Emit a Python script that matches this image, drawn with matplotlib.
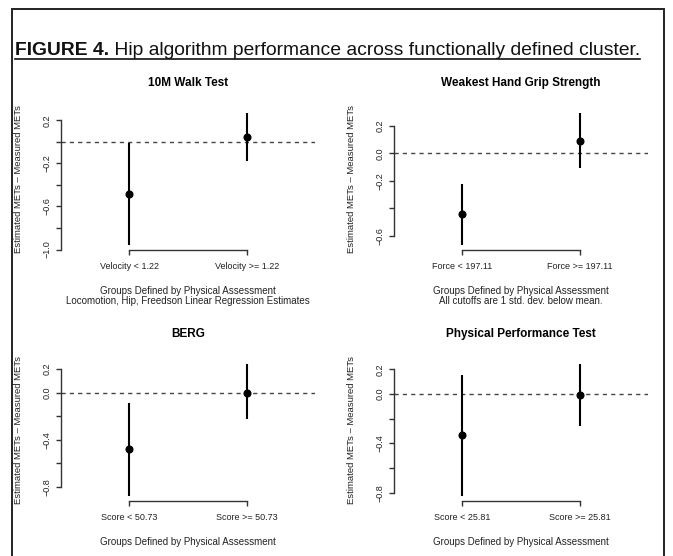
import matplotlib
matplotlib.use("Agg")
import matplotlib.pyplot as plt
from matplotlib.lines import Line2D
from matplotlib.patches import Rectangle
import numpy as np

plt.rcParams['font.family'] = ['Liberation Sans', 'DejaVu Sans']

# ---------------- data ----------------
fig_title_bold = "FIGURE 4."
fig_title_rest = " Hip algorithm performance across functionally defined cluster."

titles = ["10M Walk Test", "Weakest Hand Grip Strength", "BERG", "Physical Performance Test"]

cat_labels_walk = ["Velocity < 1.22", "Velocity >= 1.22"]
cat_labels_grip = ["Force < 197.11", "Force >= 197.11"]
cat_labels_berg = ["Score < 50.73", "Score >= 50.73"]
cat_labels_ppt = ["Score < 25.81", "Score >= 25.81"]

mean_walk = [-0.48, 0.047]
low_walk = [-0.955, -0.18]
high_walk = [-0.01, 0.27]

mean_grip = [-0.44, 0.094]
low_grip = [-0.665, -0.105]
high_grip = [-0.22, 0.296]

mean_berg = [-0.477, 0.0]
low_berg = [-0.877, -0.228]
high_berg = [-0.088, 0.245]

mean_ppt = [-0.333, -0.01]
low_ppt = [-0.825, -0.26]
high_ppt = [0.156, 0.245]

yticks_walk = [-1.0, -0.8, -0.6, -0.4, -0.2, 0.0, 0.2]
ylabels_walk = ["−1.0", "", "−0.6", "", "−0.2", "", "0.2"]
yticks_grip = [-0.6, -0.4, -0.2, 0.0, 0.2]
ylabels_grip = ["−0.6", "", "−0.2", "0.0", "0.2"]
yticks_berg = [-0.8, -0.6, -0.4, -0.2, 0.0, 0.2]
ylabels_berg = ["−0.8", "", "−0.4", "", "0.0", "0.2"]
yticks_ppt = [-0.8, -0.6, -0.4, -0.2, 0.0, 0.2]
ylabels_ppt = ["−0.8", "", "−0.4", "", "0.0", "0.2"]

xlab_walk = ["Groups Defined by Physical Assessment",
             "Locomotion, Hip, Freedson Linear Regression Estimates"]
xlab_grip = ["Groups Defined by Physical Assessment",
             "All cutoffs are 1 std. dev. below mean."]
xlab_berg = ["Groups Defined by Physical Assessment"]
xlab_ppt = ["Groups Defined by Physical Assessment"]

ylab = "Estimated METs – Measured METs"

# ---------------- figure ----------------
W, H = 673, 556
fig = plt.figure(figsize=(W / 100, H / 100), dpi=100)
fig.patch.set_facecolor("white")

# outer frame
fig.add_artist(Rectangle((12 / W, -0.05), (664 - 12) / W, 1.05 - 9 / H,
                         transform=fig.transFigure, fill=False,
                         edgecolor="#222222", linewidth=1.4))

def px(x0, y_top, w, h):
    return [x0 / W, 1 - (y_top + h) / H, w / W, h / H]

ax_h = 142.5
ax_w = 254
positions = [px(61, 250 - ax_h, ax_w, ax_h), px(394, 250 - ax_h, ax_w, ax_h),
             px(61, 501 - ax_h, ax_w, ax_h), px(394, 501 - ax_h, ax_w, ax_h)]

panels = [
    (titles[0], cat_labels_walk, mean_walk, low_walk, high_walk, yticks_walk, ylabels_walk, xlab_walk),
    (titles[1], cat_labels_grip, mean_grip, low_grip, high_grip, yticks_grip, ylabels_grip, xlab_grip),
    (titles[2], cat_labels_berg, mean_berg, low_berg, high_berg, yticks_berg, ylabels_berg, xlab_berg),
    (titles[3], cat_labels_ppt, mean_ppt, low_ppt, high_ppt, yticks_ppt, ylabels_ppt, xlab_ppt),
]

P = 0.72  # points per pixel

for pos, (title, cats, mean, low, high, yt, yl, xl) in zip(positions, panels):
    ax = fig.add_axes(pos)
    x = np.arange(1, len(cats) + 1)
    lo = min(low)
    hi = max(high)
    rng = hi - lo
    ax.set_ylim(lo - 0.04 * rng, hi + 0.04 * rng)
    ax.set_xlim(0.42, 2.58)

    ax.axhline(0, color="#444444", linewidth=1.0, linestyle=(0, (3, 3)), zorder=1)
    ax.vlines(x, low, high, color="black", linewidth=1.5, zorder=2)
    ax.plot(x, mean, "o", color="black", markersize=4.8, zorder=3)

    for s in ["top", "right"]:
        ax.spines[s].set_visible(False)
    ax.spines["left"].set_bounds(min(yt), max(yt))
    ax.spines["bottom"].set_bounds(1, len(cats))
    for s in ["left", "bottom"]:
        ax.spines[s].set_color("#333333")
        ax.spines[s].set_linewidth(1.0)

    ax.set_xticks(x)
    ax.set_xticklabels(cats)
    ax.set_yticks(yt)
    ax.set_yticklabels(yl, rotation=90, va="center")
    ax.tick_params(axis="both", length=3.6, width=1.0, color="#333333",
                   labelsize=6.5, labelcolor="#222222")
    ax.tick_params(axis="x", pad=5)
    ax.tick_params(axis="y", pad=3)

    ax.set_title(title, fontsize=8.5, fontweight="bold", pad=15.5)

    for i, line in enumerate(xl):
        ax.annotate(line, xy=(0.5, 0), xycoords="axes fraction",
                    xytext=(0, -(41 + 10 * i) * P), textcoords="offset points",
                    ha="center", va="center", fontsize=7, color="#222222")

    ax.annotate(ylab, xy=(0, 0.5), xycoords="axes fraction",
                xytext=(-43 * P, 0), textcoords="offset points",
                ha="center", va="center", rotation=90, fontsize=6.8, color="#222222")

# figure caption with underline
t1 = fig.text(15 / W, 1 - 55 / H, fig_title_bold, fontsize=13.9, fontweight="bold",
              ha="left", va="baseline", color="#111111")
fig.canvas.draw()
r = fig.canvas.get_renderer()
bb1 = t1.get_window_extent(r)
t2 = fig.text(bb1.x1 / W, 1 - 55 / H, fig_title_rest, fontsize=13.9,
              ha="left", va="baseline", color="#111111")
fig.canvas.draw()
bb2 = t2.get_window_extent(r)
uy = 1 - 59 / H
fig.add_artist(Line2D([bb1.x0 / W, bb2.x1 / W], [uy, uy], transform=fig.transFigure,
                      color="#111111", linewidth=1.2))

fig.savefig("out.png", dpi=100, facecolor="white")
